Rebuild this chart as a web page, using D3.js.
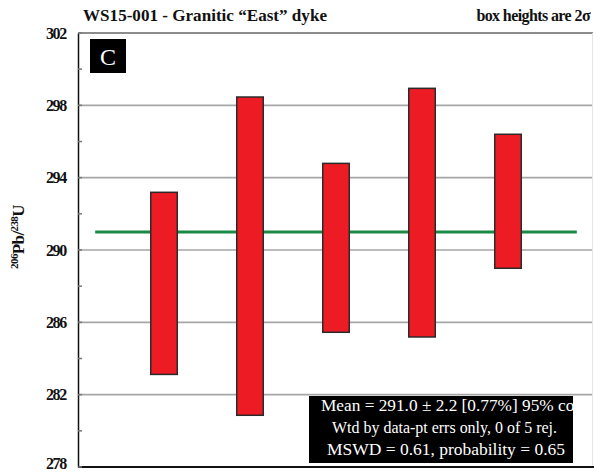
<!DOCTYPE html>
<html>
<head>
<meta charset="utf-8">
<script src="https://cdn.jsdelivr.net/npm/d3@7"></script>
<style>
  html, body { margin: 0; padding: 0; background: #fff; }
  svg { display: block; }
  text { font-family: "Liberation Serif", "Times New Roman", serif; }
</style>
</head>
<body>
<svg id="chart" width="594" height="473"></svg>
<script>
// 206Pb/238U ages (Ma), boxes are ±2σ
const analyses = [1, 2, 3, 4, 5];
const boxLow  = [283.12, 280.86, 285.45, 285.19, 288.99];
const boxHigh = [293.19, 298.46, 294.79, 298.94, 296.40];
const weightedMean = 291.0;
const majorTicks = [278, 282, 286, 290, 294, 298, 302];
const minorTicks = [280, 284, 288, 292, 296, 300];
const statsLines = [
  "Mean = 291.0 \u00b1 2.2 [0.77%] 95% conf.",
  "Wtd by data-pt errs only, 0 of 5 rej.",
  "MSWD = 0.61, probability = 0.65"
];

const svg = d3.select("#chart");
const plotLeft = 78, plotRight = 594, plotTop = 33, plotBottom = 467;

const x = d3.scaleLinear().domain([0, 6]).range([plotLeft, plotRight]);
const y = d3.scaleLinear().domain([278, 302]).range([plotBottom, plotTop]);

// horizontal grid at the major ticks
svg.append("g")
  .selectAll("line")
  .data(majorTicks.filter(d => d > 278 && d < 302))
  .join("line")
  .attr("x1", plotLeft).attr("x2", plotRight - 1)
  .attr("y1", d => y(d)).attr("y2", d => y(d))
  .attr("stroke", "#a6a6a6").attr("stroke-width", 1.6);

// frame
svg.append("line").attr("x1", plotLeft).attr("x2", plotRight - 1)
  .attr("y1", y(302)).attr("y2", y(302))
  .attr("stroke", "#8c8c8c").attr("stroke-width", 2);
svg.append("line").attr("x1", plotRight - 1.5).attr("x2", plotRight - 1.5)
  .attr("y1", y(302)).attr("y2", y(278))
  .attr("stroke", "#e4e4e4").attr("stroke-width", 1);
svg.append("line").attr("x1", plotLeft).attr("x2", plotRight)
  .attr("y1", y(278)).attr("y2", y(278))
  .attr("stroke", "#111").attr("stroke-width", 2);

// left axis with major labels and inward minor ticks
const yAxis = d3.axisLeft(y).tickValues(majorTicks).tickFormat(d3.format("d")).tickSize(0).tickPadding(12);
const ag = svg.append("g").attr("transform", `translate(${plotLeft},0)`).call(yAxis);
ag.select(".domain").attr("stroke", "#111").attr("stroke-width", 1.5);
ag.selectAll("text")
  .attr("font-family", "'Liberation Serif', serif")
  .attr("font-weight", "bold").attr("font-size", 16)
  .attr("letter-spacing", -1.3).attr("fill", "#111");
// keep the lowest label inside the page
ag.selectAll(".tick").filter(d => d === 278).select("text").attr("dy", "0.1em");

svg.append("g").selectAll("line")
  .data(minorTicks.concat(majorTicks))
  .join("line")
  .attr("x1", plotLeft).attr("x2", plotLeft + 4)
  .attr("y1", d => y(d)).attr("y2", d => y(d))
  .attr("stroke", "#777").attr("stroke-width", 1.5);

// weighted mean line
svg.append("line")
  .attr("x1", x(0.2)).attr("x2", x(5.8))
  .attr("y1", y(weightedMean)).attr("y2", y(weightedMean))
  .attr("stroke", "#1b8a47").attr("stroke-width", 3);

// error boxes
const bw = 26.5;
svg.append("g").selectAll("rect")
  .data(analyses)
  .join("rect")
  .attr("x", (d) => x(d) - bw / 2)
  .attr("width", bw)
  .attr("y", (d, i) => y(boxHigh[i]))
  .attr("height", (d, i) => y(boxLow[i]) - y(boxHigh[i]))
  .attr("fill", "#ed1c24")
  .attr("stroke", "#2a2a2a").attr("stroke-width", 1.5);

// panel letter
svg.append("rect").attr("x", 90).attr("y", 39).attr("width", 36).attr("height", 34).attr("fill", "#000");
svg.append("text").attr("x", 108).attr("y", 65).attr("text-anchor", "middle")
  .attr("font-size", 24).attr("fill", "#fff").text("C");

// titles
svg.append("text").attr("x", 83).attr("y", 21)
  .attr("font-weight", "bold").attr("font-size", 17.5)
  .attr("textLength", 244).attr("lengthAdjust", "spacingAndGlyphs")
  .attr("fill", "#111").text("WS15-001 - Granitic \u201cEast\u201d dyke");
svg.append("text").attr("x", 590).attr("y", 21).attr("text-anchor", "end")
  .attr("font-weight", "bold").attr("font-size", 16).attr("letter-spacing", -0.6)
  .attr("fill", "#111").text("box heights are 2\u03c3");

// y axis title
const yt = svg.append("text")
  .attr("transform", "translate(24,237) rotate(-90)")
  .attr("text-anchor", "middle")
  .attr("font-weight", "bold").attr("font-size", 17).attr("fill", "#111")
  .attr("letter-spacing", -0.6);
yt.append("tspan").attr("font-size", 11).attr("dy", -6).text("206");
yt.append("tspan").attr("dy", 6).text("Pb/");
yt.append("tspan").attr("font-size", 11).attr("dy", -6).text("238");
yt.append("tspan").attr("dy", 6).text("U");

// statistics box; the first line runs past the box edge and is clipped
const bx = 309, by = 396, bwid = 264, bh = 67;
svg.append("clipPath").attr("id", "statsClip")
  .append("rect").attr("x", bx).attr("y", by).attr("width", bwid).attr("height", bh);
svg.append("rect").attr("x", bx).attr("y", by).attr("width", bwid).attr("height", bh).attr("fill", "#000");
const sg = svg.append("g").attr("clip-path", "url(#statsClip)");
const starts = [321, 332, 327];
const lengths = [272, 225, 238];
sg.selectAll("text")
  .data(statsLines)
  .join("text")
  .attr("x", (d, i) => starts[i])
  .attr("y", (d, i) => 411 + i * 22)
  .attr("textLength", (d, i) => lengths[i])
  .attr("lengthAdjust", "spacingAndGlyphs")
  .attr("font-size", 16).attr("fill", "#fff")
  .text(d => d);
</script>
</body>
</html>
